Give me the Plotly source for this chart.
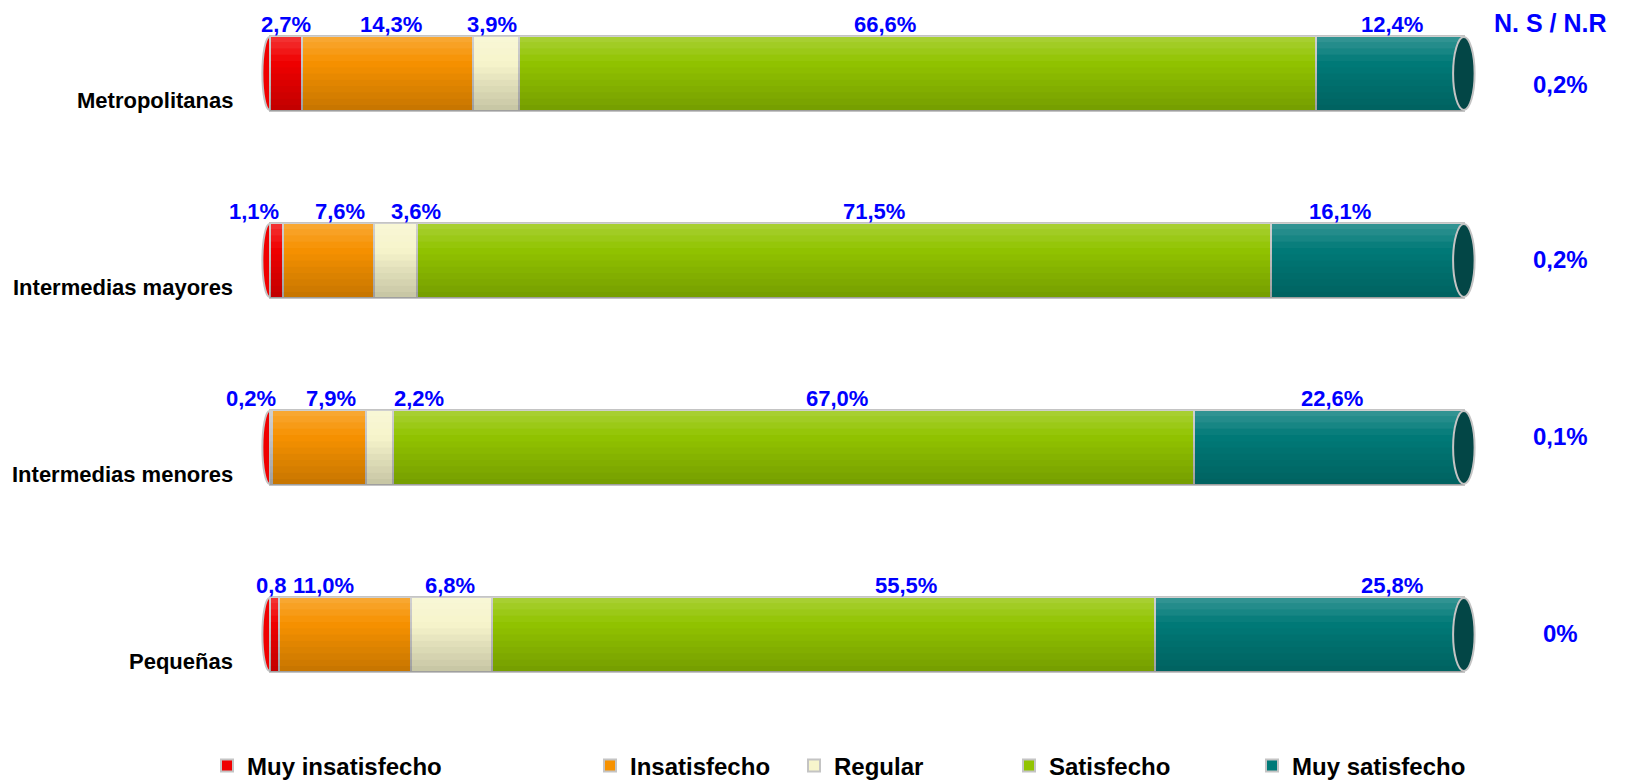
import plotly.graph_objects as go

# ---------------- data ----------------
categories = ["Metropolitanas", "Intermedias mayores", "Intermedias menores", "Pequeñas"]
series_names = ["Muy insatisfecho", "Insatisfecho", "Regular", "Satisfecho", "Muy satisfecho"]
muy_insatisfecho = [2.7, 1.1, 0.2, 0.8]
insatisfecho = [14.3, 7.6, 7.9, 11.0]
regular = [3.9, 3.6, 2.2, 6.8]
satisfecho = [66.6, 71.5, 67.0, 55.5]
muy_satisfecho = [12.4, 16.1, 22.6, 25.8]
ns_nr = [0.2, 0.2, 0.1, 0.0]
ns_nr_title = "N. S / N.R"

series_values = [muy_insatisfecho, insatisfecho, regular, satisfecho, muy_satisfecho]

# ---------------- styles / layout ----------------
colors = ["#F00000", "#F79200", "#F7F5CC", "#92C400", "#007A78"]
cap_color = "#034646"
edge = "#C4C4C4"
FONT = "Liberation Sans, Arial, sans-serif"
OFF = 8                      # page body margin of the html page
W, H = 1629 - OFF, 783 - OFF
PX_PER_UNIT = 11.95
XMIN = -0.8
XMAX = 101.0
X0_PX = 270 - OFF            # where value 0 sits
ML = X0_PX + XMIN * PX_PER_UNIT
MT = 20 - OFF
PW = (XMAX - XMIN) * PX_PER_UNIT
MR = W - ML - PW
PLOT_BOTTOM = 700 - OFF
MB = H - PLOT_BOTTOM
PH = PLOT_BOTTOM - MT
BAR_W = 0.4
ROW_PX = 187.0
ROW0_PX = 73.5 - OFF

# pixel nudges of the value labels (as placed in the original)
label_nudge = [
    [0, 4, -4, -33, 2],
    [-22, 12, 21, 30, -28],
    [-20, 12, 39, 44, 3],
    [-3, -21, -1, 82, 82],
]


def fmt(v, pct=True):
    s = ("%.1f" % v).replace(".", ",")
    if v == 0:
        s = "0"
    return s + ("%" if pct else "")


def paper_x(ref_px):
    return (ref_px - OFF - ML) / PW


def paper_y(ref_py):
    return (PLOT_BOTTOM - (ref_py - OFF)) / PH


fig = go.Figure()
for name, vals, col in zip(series_names, series_values, colors):
    fig.add_trace(go.Bar(
        y=categories, x=vals, name=name, orientation="h",
        width=BAR_W,
        marker=dict(color=col, line=dict(color=edge, width=2)),
        hoverinfo="x+name",
    ))

# separate legends, one per series, to reproduce spacing (container coords)
legend_text_px = [247, 630, 834, 1049, 1292]
for i, tr in enumerate(fig.data):
    key = "legend" if i == 0 else f"legend{i+1}"
    tr.legend = key
    fig.layout[key] = dict(
        xref="container", yref="container",
        x=(legend_text_px[i] - OFF - 40) / W, xanchor="left",
        y=1 - (766 - OFF) / H, yanchor="middle",
        orientation="h", bgcolor="rgba(0,0,0,0)",
        font=dict(family=FONT, size=24, color="black", weight="bold"),
        itemwidth=30,
    )

shapes = []
annotations = []
NB = 12
for r, cat in enumerate(categories):
    total = sum(s[r] for s in series_values)
    # rounded left end
    shapes.append(dict(type="circle", xref="x", yref="y",
                       x0=-0.6, x1=0.6,
                       y0=r - BAR_W / 2 + 0.005, y1=r + BAR_W / 2 - 0.005,
                       fillcolor=colors[0], line=dict(color=edge, width=2),
                       layer="below"))
    # cylinder shading bands
    for k in range(NB):
        t = (k + 0.5) / NB
        if t < 0.35:
            c = "rgba(255,255,255,%.3f)" % (0.22 * (0.35 - t) / 0.35)
        else:
            c = "rgba(0,0,0,%.3f)" % (0.2 * (t - 0.35) / 0.65)
        y0 = r - BAR_W / 2 + k * BAR_W / NB
        shapes.append(dict(type="rect", xref="x", yref="y", x0=0, x1=total,
                           y0=y0, y1=y0 + BAR_W / NB, fillcolor=c,
                           line=dict(width=0), layer="above"))
    # right end cap
    shapes.append(dict(type="circle", xref="x", yref="y",
                       x0=total - 0.9, x1=total + 0.9,
                       y0=r - BAR_W / 2 + 0.005, y1=r + BAR_W / 2 - 0.005,
                       fillcolor=cap_color, line=dict(color=edge, width=2),
                       layer="above"))
    # value labels
    cum = 0
    for s, vals in enumerate(series_values):
        v = vals[r]
        txt = fmt(v)
        if r == 3 and s == 0:
            txt = fmt(v, pct=False)
        annotations.append(dict(
            x=cum + v / 2, y=cat, xref="x", yref="y", text=txt,
            showarrow=False, yshift=49, xshift=label_nudge[r][s],
            xanchor="center", yanchor="middle",
            font=dict(family=FONT, size=22, color="#0000FF", weight="bold"),
        ))
        cum += v
    # category labels (below bar centre, as in the original)
    annotations.append(dict(
        x=0, y=cat, xref="x", yref="y", text=cat, showarrow=False,
        xanchor="right", yanchor="middle", xshift=-35, yshift=-27,
        font=dict(family=FONT, size=22, color="black", weight="bold"),
    ))
    # N.S / N.R values
    annotations.append(dict(
        x=paper_x(1560), y=cat, xref="paper", yref="y", text=fmt(ns_nr[r]),
        showarrow=False, yshift=[-11, 1, 11, 1][r],
        xanchor="center", yanchor="middle",
        font=dict(family=FONT, size=24, color="#0000FF", weight="bold"),
    ))

annotations.append(dict(
    x=paper_x(1550), y=paper_y(23), xref="paper", yref="paper",
    text=ns_nr_title, showarrow=False, xanchor="center", yanchor="middle",
    font=dict(family=FONT, size=25, color="#0000FF", weight="bold"),
))

fig.update_layout(
    width=W, height=H,
    barmode="stack",
    margin=dict(l=ML, r=MR, t=MT, b=MB, pad=0, autoexpand=False),
    paper_bgcolor="white", plot_bgcolor="white",
    xaxis=dict(range=[XMIN, XMAX], visible=False, fixedrange=True),
    yaxis=dict(range=[(PLOT_BOTTOM - ROW0_PX) / ROW_PX, -(ROW0_PX - MT) / ROW_PX],
               visible=False, fixedrange=True),
    shapes=shapes, annotations=annotations,
    showlegend=True,
)

fig.write_html("out.html")
